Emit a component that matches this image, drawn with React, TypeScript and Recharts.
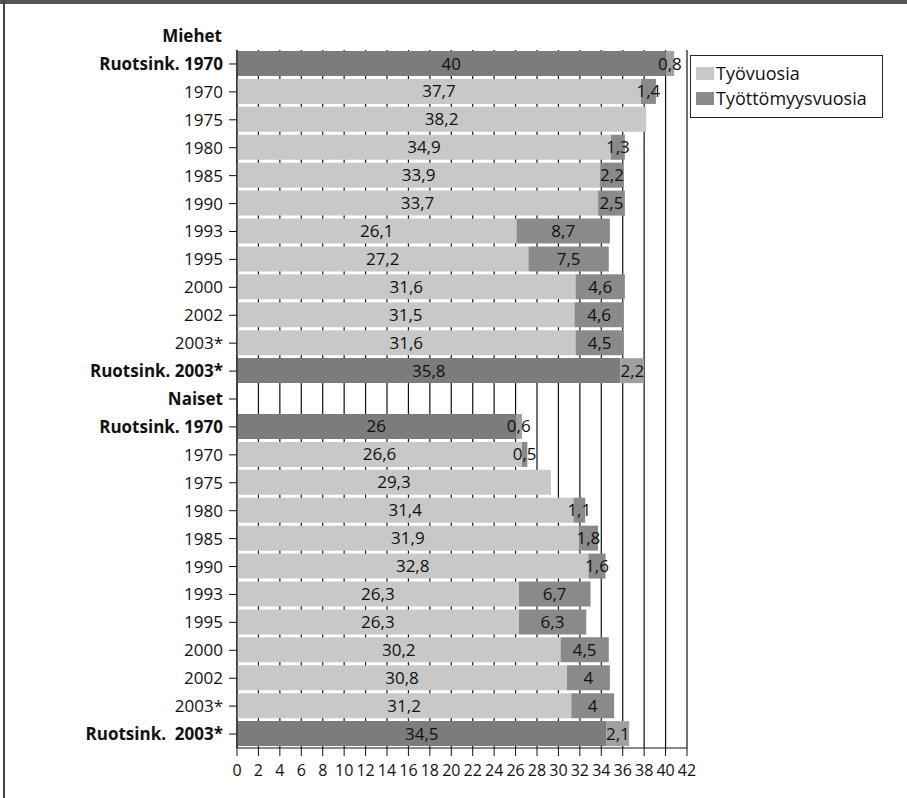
import React from 'react'
import {
    BarChart,
    Bar,
    XAxis,
    YAxis,
    CartesianGrid,
    LabelList,
    Cell
} from 'recharts'

const topHeader = 'Miehet'

const categories = [
    'Ruotsink. 1970', '1970', '1975', '1980', '1985', '1990', '1993', '1995', '2000', '2002', '2003*', 'Ruotsink. 2003*',
    'Naiset',
    'Ruotsink. 1970', '1970', '1975', '1980', '1985', '1990', '1993', '1995', '2000', '2002', '2003*', 'Ruotsink.  2003*'
]

const workYears = [
    40, 37.7, 38.2, 34.9, 33.9, 33.7, 26.1, 27.2, 31.6, 31.5, 31.6, 35.8,
    null,
    26, 26.6, 29.3, 31.4, 31.9, 32.8, 26.3, 26.3, 30.2, 30.8, 31.2, 34.5
]

const unemploymentYears = [
    0.8, 1.4, null, 1.3, 2.2, 2.5, 8.7, 7.5, 4.6, 4.6, 4.5, 2.2,
    null,
    0.6, 0.5, null, 1.1, 1.8, 1.6, 6.7, 6.3, 4.5, 4, 4, 2.1
]

const seriesNames = ['Työvuosia', 'Työttömyysvuosia']

const xTicks = [0, 2, 4, 6, 8, 10, 12, 14, 16, 18, 20, 22, 24, 26, 28, 30, 32, 34, 36, 38, 40, 42]

const data = categories.map((name, i) => ({
    id: i,
    name,
    work: workYears[i],
    unemployed: unemploymentYears[i]
}))

const FONT = '"Open Sans", "Noto Sans", sans-serif'
const LIGHT = '#c8c8c8'
const DARK = '#8a8a8a'
const SWEDEN_MAIN = '#7c7c7c'
const SWEDEN_REST = '#a0a0a0'

const isBold = (name: string) => name.startsWith('Ruotsink') || name === 'Naiset'

const CategoryTick = ({ x, y, payload }: any) => {
    const name = categories[payload.value]
    return (
        <text
            x={x - 4}
            y={y}
            dy={6}
            textAnchor="end"
            fontFamily={FONT}
            fontSize={17}
            fontWeight={isBold(name) ? 700 : 400}
            fill="#111"
            style={{ whiteSpace: 'pre' }}
        >
            {name}
        </text>
    )
}

const ValueTick = ({ x, y, payload }: any) => (
    <text x={x} y={y} dy={18} textAnchor="middle" fontFamily={FONT} fontSize={16} fill="#111">
        {payload.value}
    </text>
)

const ValueLabel = ({ x, y, width, height, value }: any) => {
    if (value == null || value === 0) return null
    return (
        <text
            x={x + width / 2}
            y={y + height / 2}
            dy={6}
            textAnchor="middle"
            fontFamily={FONT}
            fontSize={17}
            fill="#111"
        >
            {String(value).replace('.', ',')}
        </text>
    )
}

const LegendBox = () => (
    <div
        style={{
            position: 'absolute',
            left: 690,
            top: 55,
            width: 181,
            border: '1.5px solid #222',
            padding: '5px 5px 6px 5px',
            background: '#fff',
            fontFamily: FONT,
            fontSize: 18,
            color: '#111',
            lineHeight: '25px'
        }}
    >
        {seriesNames.map((label, i) => (
            <div key={label} style={{ display: 'flex', alignItems: 'center', gap: 2, whiteSpace: 'nowrap' }}>
                <span style={{ width: 18, height: 13, background: i === 0 ? LIGHT : DARK, display: 'inline-block', flex: 'none' }}></span>
                <span>{label}</span>
            </div>
        ))}
    </div>
)

export default function App() {
    return (
        <div style={{ position: 'absolute', left: 0, top: 0, width: 907, height: 798, background: '#fff' }}>
            <div style={{ position: 'absolute', left: 0, top: 0, width: 907, height: 4, background: '#555' }}></div>
            <div style={{ position: 'absolute', left: 3, top: 0, width: 2, height: 798, background: '#444' }}></div>
            <div
                style={{
                    position: 'absolute',
                    right: 907 - 222,
                    top: 24,
                    fontFamily: FONT,
                    fontSize: 17,
                    fontWeight: 700,
                    color: '#111'
                }}
            >
                {topHeader}
            </div>
            <BarChart
                width={907}
                height={798}
                data={data}
                layout="vertical"
                margin={{ top: 50, right: 220, left: 0, bottom: 10 }}
                barSize={25}
            >
                <CartesianGrid horizontal={false} stroke="#111" strokeWidth={1.2} />
                <XAxis
                    type="number"
                    domain={[0, 42]}
                    ticks={xTicks}
                    interval={0}
                    stroke="#111"
                    tickSize={8}
                    tick={<ValueTick />}
                    height={40}
                />
                <XAxis
                    xAxisId="top"
                    orientation="top"
                    type="number"
                    domain={[0, 42]}
                    tick={false}
                    tickLine={false}
                    stroke="#111"
                    height={0}
                />
                <YAxis
                    type="category"
                    dataKey="id"
                    width={237}
                    interval={0}
                    stroke="#111"
                    tickSize={8}
                    tick={<CategoryTick />}
                />
                <Bar dataKey="work" name={seriesNames[0]} stackId="a" isAnimationActive={false}>
                    {data.map((d) => (
                        <Cell key={d.id} fill={d.name.startsWith('Ruotsink') ? SWEDEN_MAIN : LIGHT} />
                    ))}
                    <LabelList dataKey="work" content={<ValueLabel />} />
                </Bar>
                <Bar dataKey="unemployed" name={seriesNames[1]} stackId="a" isAnimationActive={false}>
                    {data.map((d) => (
                        <Cell key={d.id} fill={d.name.startsWith('Ruotsink') ? SWEDEN_REST : DARK} />
                    ))}
                    <LabelList dataKey="unemployed" content={<ValueLabel />} />
                </Bar>
            </BarChart>
            <LegendBox />
        </div>
    )
}
